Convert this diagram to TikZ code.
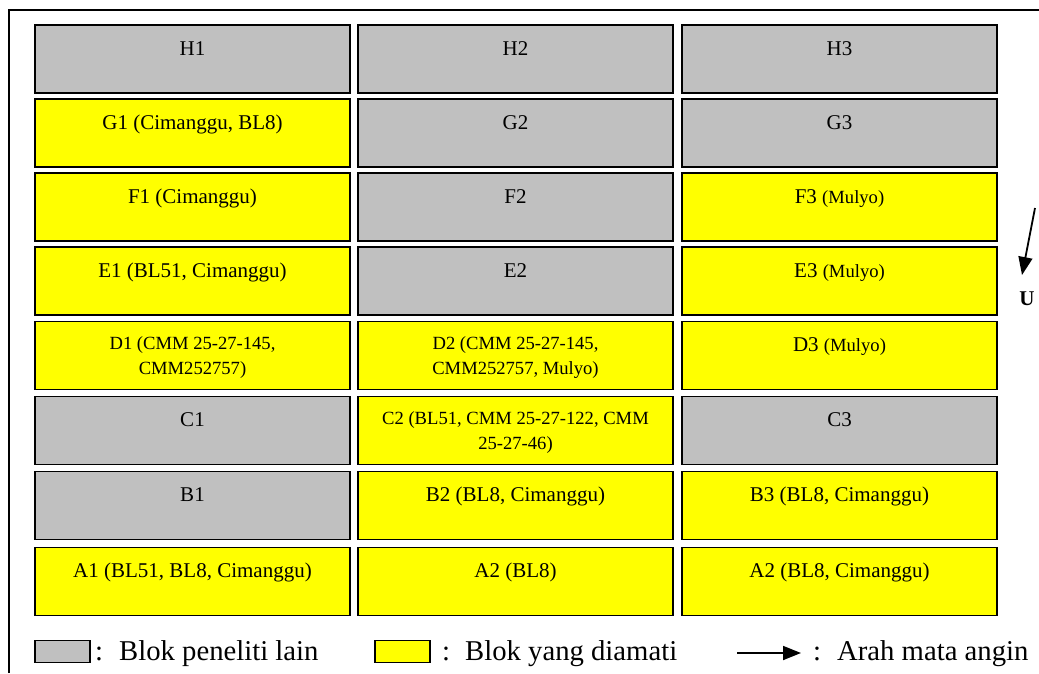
\documentclass[tikz,border=0pt]{standalone}
\usepackage{fontspec}
\setmainfont{Liberation Serif}
\usetikzlibrary{calc,arrows.meta}
\definecolor{blokgray}{HTML}{C0C0C0}
\definecolor{blokyellow}{HTML}{FFFF00}
\newcommand{\smallsz}{\fontsize{18.6}{22}\selectfont}
\tikzset{
  blok/.style={draw=black,line width=1.6pt,minimum width=315pt,minimum height=68pt,inner sep=0pt,anchor=north},
  gbox/.style={blok,fill=blokgray},
  ybox/.style={blok,fill=blokyellow},
  lbl/.style={anchor=base,inner sep=0pt,font=\fontsize{21}{25}\selectfont},
  lbltwo/.style={anchor=north,inner sep=0pt,align=center,font=\fontsize{18.6}{25}\selectfont},
  legtext/.style={anchor=base west,inner sep=0pt,font=\fontsize{28.7}{32}\selectfont},
  legbox/.style={draw=black,line width=1.2pt,minimum width=55pt,minimum height=22pt,inner sep=0pt},
  arr/.style={line width=1.8pt,-{Triangle[length=18pt,width=14pt]}}
}
\begin{document}
\begin{tikzpicture}[x=1pt,y=-1pt]
\useasboundingbox (0,0) rectangle (1039,673);
\fill[white] (0,0) rectangle (1039,673);
% frame
\draw[line width=1.5pt] (9,673) -- (9,10) -- (1039,10);
% row H
\node[gbox] (H1) at (192.5,24) {};
\node[gbox] (H2) at (515.5,24) {};
\node[gbox] (H3) at (839.5,24) {};
% row G
\node[ybox] (G1) at (192.5,98) {};
\node[gbox] (G2) at (515.5,98) {};
\node[gbox] (G3) at (839.5,98) {};
% row F
\node[ybox] (F1) at (192.5,172) {};
\node[gbox] (F2) at (515.5,172) {};
\node[ybox] (F3) at (839.5,172) {};
% row E
\node[ybox] (E1) at (192.5,246) {};
\node[gbox] (E2) at (515.5,246) {};
\node[ybox] (E3) at (839.5,246) {};
% row D
\node[ybox] (D1) at (192.5,320.5) {};
\node[ybox] (D2) at (515.5,320.5) {};
\node[ybox] (D3) at (839.5,320.5) {};
% row C
\node[gbox] (C1) at (192.5,395.5) {};
\node[ybox] (C2) at (515.5,395.5) {};
\node[gbox] (C3) at (839.5,395.5) {};
% row B
\node[gbox] (B1) at (192.5,470.5) {};
\node[ybox] (B2) at (515.5,470.5) {};
\node[ybox] (B3) at (839.5,470.5) {};
% row A
\node[ybox] (A1) at (192.5,546.5) {};
\node[ybox] (A2) at (515.5,546.5) {};
\node[ybox] (A3) at (839.5,546.5) {};
% labels
\node[lbl] (tH1) at ($(H1.north)+(0,31)$) {H1};
\node[lbl] (tH2) at ($(H2.north)+(0,31)$) {H2};
\node[lbl] (tH3) at ($(H3.north)+(0,31)$) {H3};
\node[lbl] (tG1) at ($(G1.north)+(0,31)$) {G1 (Cimanggu, BL8)};
\node[lbl] (tG2) at ($(G2.north)+(0,31)$) {G2};
\node[lbl] (tG3) at ($(G3.north)+(0,31)$) {G3};
\node[lbl] (tF1) at ($(F1.north)+(0,31)$) {F1 (Cimanggu)};
\node[lbl] (tF2) at ($(F2.north)+(0,31)$) {F2};
\node[lbl] (tF3) at ($(F3.north)+(0,31)$) {F3 {\smallsz(Mulyo)}};
\node[lbl] (tE1) at ($(E1.north)+(0,31)$) {E1 (BL51, Cimanggu)};
\node[lbl] (tE2) at ($(E2.north)+(0,31)$) {E2};
\node[lbl] (tE3) at ($(E3.north)+(0,31)$) {E3 {\smallsz(Mulyo)}};
\node[lbltwo] (tD1) at ($(D1.north)+(0,15.5)$) {D1 (CMM 25-27-145,\\CMM252757)};
\node[lbltwo] (tD2) at ($(D2.north)+(0,15.5)$) {D2 (CMM 25-27-145,\\CMM252757, Mulyo)};
\node[lbl] (tD3) at ($(D3.north)+(0,31)$) {D3 {\smallsz(Mulyo)}};
\node[lbl] (tC1) at ($(C1.north)+(0,31)$) {C1};
\node[lbltwo] (tC2) at ($(C2.north)+(0,15.5)$) {C2 (BL51, CMM 25-27-122, CMM\\25-27-46)};
\node[lbl] (tC3) at ($(C3.north)+(0,31)$) {C3};
\node[lbl] (tB1) at ($(B1.north)+(0,31)$) {B1};
\node[lbl] (tB2) at ($(B2.north)+(0,31)$) {B2 (BL8, Cimanggu)};
\node[lbl] (tB3) at ($(B3.north)+(0,31)$) {B3 (BL8, Cimanggu)};
\node[lbl] (tA1) at ($(A1.north)+(0,31)$) {A1 (BL51, BL8, Cimanggu)};
\node[lbl] (tA2) at ($(A2.north)+(0,31)$) {A2 (BL8)};
\node[lbl] (tA3) at ($(A3.north)+(0,31)$) {A2 (BL8, Cimanggu)};
% north arrow
\coordinate (nstart) at (1035,208);
\coordinate (nend) at (1022,275);
\draw[arr] (nstart) -- (nend);
\node[anchor=base,inner sep=0pt,font=\bfseries\fontsize{21}{25}\selectfont] (U) at (1027,305) {U};
% legend
\node[legbox,fill=blokgray] (lg) at (62.5,651.5) {};
\node[legtext] (lgt) at (95,660) {:\hspace{16pt}Blok peneliti lain};
\node[legbox,fill=blokyellow] (ly) at (402.5,651.5) {};
\node[legtext] (lyt) at (442,660) {:\hspace{15pt}Blok yang diamati};
\coordinate (la1) at (737,653);
\coordinate (la2) at (801,653);
\draw[arr] (la1) -- (la2);
\node[legtext] (lat) at (813,660) {:\hspace{16pt}Arah mata angin};
\end{tikzpicture}
\end{document}
